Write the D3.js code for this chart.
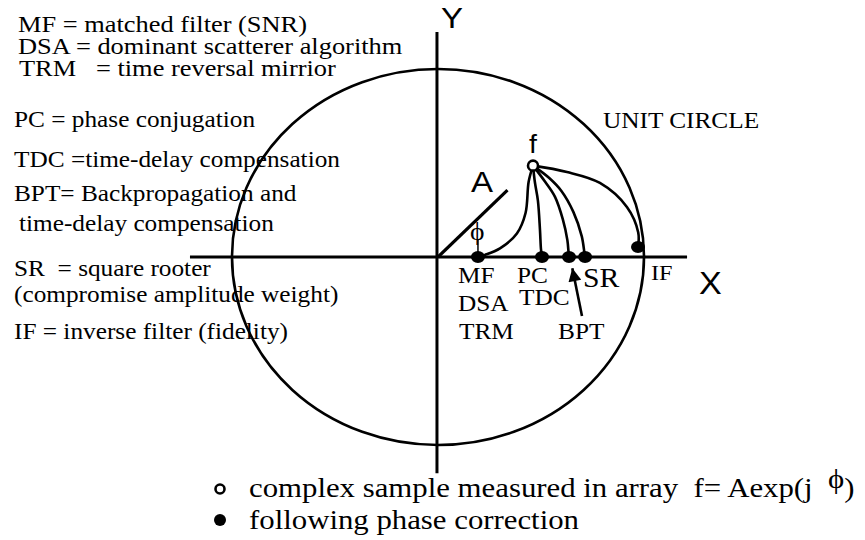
<!DOCTYPE html>
<html>
<head>
<meta charset="utf-8">
<script src="https://cdn.jsdelivr.net/npm/d3@7"></script>
<style>
body { margin: 0; background: #fff; }
svg text { white-space: pre; fill: #000; }
</style>
</head>
<body>
<div class="chart"></div>
<script>
// abbreviations listed on the left
const LEGEND_LINES = [
	'MF = matched filter (SNR)',
	'DSA = dominant scatterer algorithm',
	'TRM   = time reversal mirrior',
	'PC = phase conjugation',
	'TDC =time-delay compensation',
	'BPT= Backpropagation and',
	'time-delay compensation',
	'SR  = square rooter',
	'(compromise amplitude weight)',
	'IF = inverse filter (fidelity)',
]
const LEGEND_BASELINES = [32, 54, 76, 127, 167, 201, 231, 276, 302, 339]
const LEGEND_LEFT = [18, 18, 19, 14, 14, 14, 19, 14, 14, 14]

// measured sample f = A exp(j phi), unit circle coords
const SAMPLE_AMP = 0.67
const SAMPLE_PHASE = 46.5
const A_LENGTH = 0.49

// positions after phase correction
const METHODS = ['MF', 'PC', 'BPT', 'SR', 'IF']
const METHOD_X = [0.194, 0.505, 0.636, 0.714, 0.971]
const METHOD_Y = [0, 0, 0, 0, 0.053]
const METHOD_LABELS = [['MF', 'DSA', 'TRM'], ['PC', 'TDC'], ['BPT'], ['SR'], ['IF']]

// intermediate points of each correction path (from f to the corrected point)
const PATH_POINTS = [
	[[0.44, 0.40], [0.425, 0.234], [0.383, 0.125], [0.301, 0.046], [0.228, 0.011]],
	[[0.47, 0.40], [0.485, 0.30], [0.495, 0.144], [0.50, 0.04]],
	[[0.52, 0.40], [0.568, 0.32], [0.606, 0.20], [0.628, 0.09], [0.634, 0.02]],
	[[0.54, 0.42], [0.60, 0.35], [0.657, 0.24], [0.698, 0.11], [0.711, 0.02]],
	[[0.626, 0.452], [0.786, 0.394], [0.917, 0.266], [0.972, 0.13]],
]

const BOTTOM_LEGEND = ['complex sample measured in array  f= Aexp(j  ', 'following phase correction']

const width = 865
const height = 540
const cx = 438
const cy = 257
const rx = 206
const ry = 188
const STRETCH = 1.1
const SERIF = "'Liberation Serif', 'Times New Roman', Times, serif"
const SANS = "'Liberation Sans', Arial, Helvetica, sans-serif"

const scaleX = d3.scaleLinear().domain([-1, 1]).range([cx - rx, cx + rx])
const scaleY = d3.scaleLinear().domain([-1, 1]).range([cy + ry, cy - ry])

const svg = d3.select('.chart').append('svg')
	.attr('width', width)
	.attr('height', height)

function label(g, txt, x, y, size, family) {
	return g.append('text')
		.attr('transform', `translate(${x},${y}) scale(${STRETCH},1)`)
		.style('font-family', family || SERIF)
		.style('font-size', size + 'px')
		.text(txt)
}

// unit circle
svg.append('ellipse')
	.attr('cx', scaleX(0)).attr('cy', scaleY(0))
	.attr('rx', scaleX(1) - scaleX(0)).attr('ry', scaleY(0) - scaleY(1))
	.attr('fill', 'none').attr('stroke', '#000').attr('stroke-width', 2.6)

// axes
svg.append('line')
	.attr('x1', scaleX(-1.204)).attr('x2', scaleX(1.209))
	.attr('y1', scaleY(0)).attr('y2', scaleY(0))
	.attr('stroke', '#000').attr('stroke-width', 3)
svg.append('line')
	.attr('x1', scaleX(-0.005)).attr('x2', scaleX(-0.005))
	.attr('y1', scaleY(1.197)).attr('y2', scaleY(-1.15))
	.attr('stroke', '#000').attr('stroke-width', 3)

const rad = SAMPLE_PHASE * Math.PI / 180
const fx = SAMPLE_AMP * Math.cos(rad)
const fy = SAMPLE_AMP * Math.sin(rad)

// amplitude vector A
svg.append('line')
	.attr('x1', scaleX(0)).attr('y1', scaleY(0))
	.attr('x2', scaleX(A_LENGTH * Math.cos(rad))).attr('y2', scaleY(A_LENGTH * Math.sin(rad)))
	.attr('stroke', '#000').attr('stroke-width', 3.2)

// correction paths
const line = d3.line()
	.x(d => scaleX(d[0]))
	.y(d => scaleY(d[1]))
	.curve(d3.curveCatmullRom.alpha(0.5))

svg.append('g').selectAll('path')
	.data(METHODS)
	.join('path')
	.attr('d', (d, i) => line([[fx, fy], ...PATH_POINTS[i], [METHOD_X[i], METHOD_Y[i]]]))
	.attr('fill', 'none')
	.attr('stroke', '#000')
	.attr('stroke-width', 2.6)

// phase mark above MF
svg.append('line')
	.attr('x1', scaleX(METHOD_X[0])).attr('x2', scaleX(METHOD_X[0]))
	.attr('y1', scaleY(0.09)).attr('y2', scaleY(0.02))
	.attr('stroke', '#000').attr('stroke-width', 1.5)

// corrected points
svg.append('g').selectAll('ellipse')
	.data(METHODS)
	.join('ellipse')
	.attr('cx', (d, i) => scaleX(METHOD_X[i]))
	.attr('cy', (d, i) => scaleY(METHOD_Y[i]))
	.attr('rx', 7).attr('ry', 6)
	.attr('fill', '#000')

// measured sample
svg.append('circle')
	.attr('cx', scaleX(fx)).attr('cy', scaleY(fy))
	.attr('r', 5)
	.attr('fill', '#fff').attr('stroke', '#000').attr('stroke-width', 2.6)

// arrow to BPT
svg.append('defs').append('marker')
	.attr('id', 'head')
	.attr('viewBox', '0 0 10 10')
	.attr('refX', 10).attr('refY', 5)
	.attr('markerWidth', 9).attr('markerHeight', 5)
	.attr('markerUnits', 'strokeWidth')
	.attr('orient', 'auto')
	.append('path').attr('d', 'M0,0 L10,5 L0,10 Z').attr('fill', '#000')
svg.append('line')
	.attr('x1', scaleX(0.699)).attr('y1', scaleY(-0.314))
	.attr('x2', scaleX(0.652)).attr('y2', scaleY(-0.06))
	.attr('stroke', '#000').attr('stroke-width', 2.6)
	.attr('marker-end', 'url(#head)')

// left legend
const legend = svg.append('g')
LEGEND_LINES.forEach((t, i) => label(legend, t, LEGEND_LEFT[i], LEGEND_BASELINES[i], i < 3 ? 24 : 23))

// method labels under the axis
const labels = svg.append('g')
const labelOffset = [[-20, 26], [-25, 26], [-11, 82], [-2, 30], [13, 23]]
const labelStep = [28, 22, 0, 0, 0]
const labelSize = [23, 23, 23, 27, 22]
METHOD_LABELS.forEach((list, i) => {
	list.forEach((t, j) => {
		label(labels, t,
			scaleX(METHOD_X[i]) + labelOffset[i][0] + (i === 0 && j === 2 ? 1 : 0) + (i === 1 && j === 1 ? 2 : 0),
			scaleY(0) + labelOffset[i][1] + j * labelStep[i],
			labelSize[i])
	})
})

// annotations
label(svg, 'Y', scaleX(0) + 3, 28, 30, SANS)
label(svg, 'X', 699, 294, 31, SANS)
label(svg, 'UNIT CIRCLE', 603, 128, 23)
label(svg, 'f', scaleX(fx) - 4, scaleY(fy) - 13, 26, SANS)
label(svg, 'A', 471, 192, 30, SANS)
label(svg, '\u03d5', 470, 240, 25)

// bottom legend
const bottom = svg.append('g')
bottom.append('circle')
	.attr('cx', 220).attr('cy', 489).attr('r', 4.5)
	.attr('fill', '#fff').attr('stroke', '#000').attr('stroke-width', 2.6)
bottom.append('circle')
	.attr('cx', 220).attr('cy', 520).attr('r', 6)
	.attr('fill', '#000')
const t1 = label(bottom, BOTTOM_LEGEND[0], 249, 497, 28)
t1.append('tspan').attr('dy', -9).text('\u03d5')
t1.append('tspan').attr('dy', 9).text(')')
label(bottom, BOTTOM_LEGEND[1], 249, 529, 28)
</script>
</body>
</html>
